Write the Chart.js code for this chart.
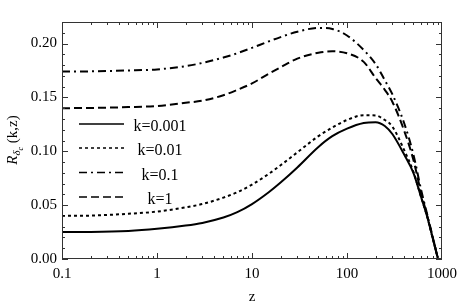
<!DOCTYPE html>
<html>
<head>
    <meta charset="UTF-8">
    <title>R delta_c (k,z)</title>
    <script src="https://cdn.jsdelivr.net/npm/chart.js"></script>
    <style>
        html, body { margin: 0; padding: 0; background: white; }
        .chart-wrapper { width: 463px; height: 308px; position: relative; }
    </style>
</head>
<body>
    <div class="chart-wrapper">
        <canvas id="rChart"></canvas>
    </div>

    <script>
        // redshift samples
        const zValues = [0.1, 0.2, 0.5, 1, 2, 3, 5, 7, 10, 15, 20, 30, 50, 70, 100, 150, 200, 250, 300, 400, 500, 600, 700, 800, 908];

        const rK0001 = [0.025, 0.0251, 0.026, 0.028, 0.031, 0.0335, 0.0385, 0.0435, 0.051, 0.062, 0.071, 0.085, 0.104, 0.114, 0.121, 0.1262, 0.127, 0.1235, 0.116, 0.097, 0.080, 0.058, 0.039, 0.019, 0.0];
        const rK001  = [0.040, 0.0403, 0.042, 0.044, 0.048, 0.051, 0.057, 0.062, 0.069, 0.079, 0.087, 0.099, 0.114, 0.122, 0.129, 0.1335, 0.1332, 0.129, 0.123, 0.101, 0.081, 0.058, 0.039, 0.019, 0.0];
        const rK01   = [0.174, 0.1742, 0.175, 0.176, 0.179, 0.182, 0.187, 0.191, 0.196, 0.202, 0.206, 0.211, 0.2145, 0.2135, 0.2075, 0.194, 0.181, 0.166, 0.153, 0.126, 0.097, 0.065, 0.041, 0.020, 0.0];
        const rK1    = [0.140, 0.1402, 0.141, 0.142, 0.145, 0.147, 0.152, 0.157, 0.163, 0.172, 0.178, 0.186, 0.1915, 0.1928, 0.191, 0.183, 0.168, 0.157, 0.146, 0.119, 0.092, 0.062, 0.040, 0.020, 0.0];

        const seriesLabels = ['k=0.001', 'k=0.01', 'k=0.1', 'k=1'];
        const xTickLabels = ['0.1', '1', '10', '100', '1000'];
        const yTickValues = [0, 0.05, 0.10, 0.15, 0.20];

        const serif = '"Liberation Serif", "DejaVu Serif", serif';

        function points(ys) {
            return zValues.map((z, i) => ({ x: z, y: ys[i] }));
        }

        function line(label, ys, dash) {
            return {
                label: label,
                data: points(ys),
                borderColor: '#000',
                borderWidth: 2,
                borderDash: dash,
                pointRadius: 0,
                fill: false,
                cubicInterpolationMode: 'monotone'
            };
        }

        // ticks all round, frame, legend and y title
        const framePlugin = {
            id: 'frame',
            afterDraw(chart) {
                const ctx = chart.ctx;
                const a = chart.chartArea;
                const xs = chart.scales.x;
                const ys = chart.scales.y;
                ctx.save();
                ctx.strokeStyle = '#333';
                ctx.lineWidth = 1;
                ctx.strokeRect(a.left + 0.5, a.top + 0.5, a.right - a.left - 1, a.bottom - a.top - 1);

                ctx.beginPath();
                for (let e = -1; e < 3; e++) {
                    for (let m = 1; m <= 9; m++) {
                        const v = m * Math.pow(10, e);
                        const px = Math.round(xs.getPixelForValue(v)) + 0.5;
                        const len = m === 1 ? 6 : 3;
                        ctx.moveTo(px, a.bottom); ctx.lineTo(px, a.bottom - len);
                        ctx.moveTo(px, a.top); ctx.lineTo(px, a.top + len);
                    }
                }
                for (let i = 0; i <= 22; i++) {
                    const py = Math.round(ys.getPixelForValue(i * 0.01)) + 0.5;
                    const len = i % 5 === 0 ? 6 : 3;
                    ctx.moveTo(a.left, py); ctx.lineTo(a.left + len, py);
                    ctx.moveTo(a.right, py); ctx.lineTo(a.right - len, py);
                }
                ctx.stroke();

                // legend
                const rows = [124, 148, 172.5, 197];
                ctx.font = '16px ' + serif;
                ctx.textAlign = 'center';
                ctx.textBaseline = 'middle';
                ctx.fillStyle = '#000';
                chart.data.datasets.forEach((ds, i) => {
                    ctx.beginPath();
                    ctx.setLineDash(ds.borderDash || []);
                    ctx.lineWidth = 1.3;
                    ctx.strokeStyle = '#000';
                    ctx.moveTo(79, rows[i]);
                    ctx.lineTo(124, rows[i]);
                    ctx.stroke();
                    ctx.setLineDash([]);
                    ctx.fillText(ds.label, 160, rows[i] + 3);
                });

                // y axis title R_{delta_c}(k,z)
                ctx.translate(12, 140);
                ctx.rotate(-Math.PI / 2);
                ctx.textAlign = 'left';
                ctx.textBaseline = 'alphabetic';
                const parts = [
                    { t: 'R', f: 'italic 15px ' + serif, dy: 0 },
                    { t: 'δ', f: 'italic 11px ' + serif, dy: 3 },
                    { t: 'c', f: 'italic 8px ' + serif, dy: 6 },
                    { t: ' (k,z)', f: '15px ' + serif, dy: 0 }
                ];
                let w = 0;
                parts.forEach(p => { ctx.font = p.f; p.w = ctx.measureText(p.t).width; w += p.w; });
                let x = -w / 2;
                parts.forEach(p => {
                    ctx.font = p.f;
                    ctx.fillText(p.t, x, 5 + p.dy);
                    x += p.w;
                });
                ctx.restore();
            }
        };

        function isDecade(v) {
            const l = Math.log10(v);
            return Math.abs(l - Math.round(l)) < 1e-6;
        }

        new Chart(document.getElementById('rChart'), {
            type: 'line',
            data: {
                datasets: [
                    line(seriesLabels[0], rK0001, []),
                    line(seriesLabels[1], rK001, [3, 3]),
                    line(seriesLabels[2], rK01, [8, 4, 2, 4]),
                    line(seriesLabels[3], rK1, [8, 4])
                ]
            },
            options: {
                responsive: true,
                maintainAspectRatio: false,
                animation: false,
                layout: { padding: { left: 0, right: 16, top: 22, bottom: 0 } },
                plugins: {
                    legend: { display: false },
                    tooltip: { enabled: false }
                },
                scales: {
                    x: {
                        type: 'logarithmic',
                        min: 0.1,
                        max: 1000,
                        grid: { display: false, drawTicks: false },
                        border: { display: false },
                        afterFit(scale) { scale.height = 49; },
                        ticks: {
                            autoSkip: false,
                            maxRotation: 0,
                            padding: 6,
                            color: '#000',
                            font: { family: serif, size: 15 },
                            callback(v) {
                                if (!isDecade(v)) return '';
                                const idx = Math.round(Math.log10(v)) + 1;
                                return xTickLabels[idx];
                            }
                        },
                        title: {
                            display: true,
                            text: 'z',
                            color: '#000',
                            font: { family: serif, size: 15 },
                            padding: { top: 0, bottom: 2 }
                        }
                    },
                    y: {
                        min: 0,
                        max: 0.22,
                        grid: { display: false, drawTicks: false },
                        border: { display: false },
                        afterFit(scale) { scale.width = 62; },
                        afterBuildTicks(scale) {
                            scale.ticks = yTickValues.map(v => ({ value: v }));
                        },
                        ticks: {
                            padding: 5,
                            color: '#000',
                            font: { family: serif, size: 15 },
                            callback(v) { return v.toFixed(2); }
                        }
                    }
                }
            },
            plugins: [framePlugin]
        });
    </script>
</body>
</html>
